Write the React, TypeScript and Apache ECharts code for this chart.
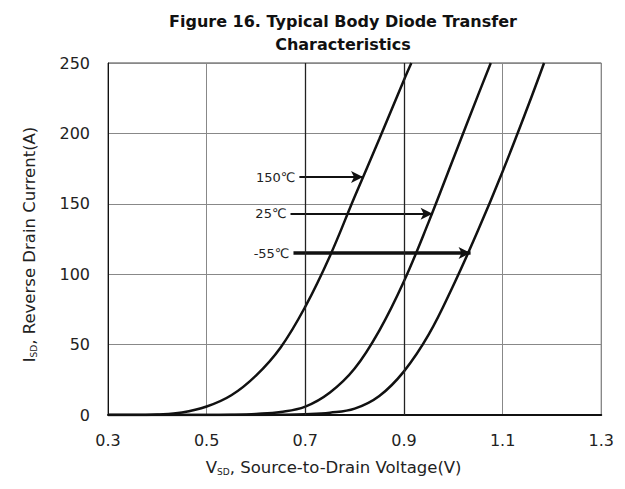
import React, { useEffect, useRef } from "react";
import * as echarts from "echarts";

// Reverse drain current curves (V_SD in V, I_SD in A)
const v150 = [0.30, 0.35, 0.40, 0.45, 0.50, 0.55, 0.60, 0.65, 0.70, 0.75, 0.80, 0.85, 0.90, 0.915];
const i150 = [0, 0, 0.4, 1.8, 6, 14, 28, 48, 77, 113, 155, 196, 238, 250];

const v25 = [0.30, 0.50, 0.55, 0.60, 0.65, 0.70, 0.75, 0.80, 0.85, 0.90, 0.95, 1.00, 1.05, 1.076];
const i25 = [0, 0, 0.2, 0.8, 2.2, 6, 16, 33, 60, 95, 137, 182, 227, 250];

const vm55 = [0.30, 0.60, 0.65, 0.70, 0.75, 0.80, 0.85, 0.90, 0.95, 1.00, 1.05, 1.10, 1.15, 1.184];
const im55 = [0, 0, 0.1, 0.5, 1.6, 4.5, 13.5, 31, 57, 92, 131, 173, 218, 250];

const seriesNames = ["150℃", "25℃", "-55℃"];
// Arrow annotations: start voltage, end voltage, current level
const arrowStartV = [0.688, 0.67, 0.676];
const arrowEndV = [0.817, 0.958, 1.035];
const arrowI = [169, 143, 115];
const arrowWidths = [2, 2, 3.5];

const xTicks = { min: 0.3, max: 1.3, interval: 0.2 };
const yTicks = { min: 0, max: 250, interval: 50 };
const darkGridV = [0.7, 0.9];

function zip(xs: number[], ys: number[]) {
  return xs.map((x, i) => [x, ys[i]]);
}

export default function App() {
  const ref = useRef<HTMLDivElement>(null);
  useEffect(() => {
    if (!ref.current) return;
    const chart = echarts.init(ref.current, undefined, { renderer: "svg" });
    const curves = [zip(v150, i150), zip(v25, i25), zip(vm55, im55)];
    const font = "'DejaVu Sans', Arial, sans-serif";
    const series: any[] = curves.map((d, k) => ({
      name: seriesNames[k],
      type: "line",
      data: d,
      smooth: 0.4,
      showSymbol: false,
      symbol: "none",
      clip: true,
      lineStyle: { color: "#111", width: 2.5 },
      markLine: {
        silent: true,
        symbol: ["none", "arrow"],
        symbolSize: [9, 12],
        lineStyle: { color: "#111", width: arrowWidths[k], type: "solid" },
        label: {
          show: true,
          position: "start",
          formatter: seriesNames[k],
          color: "#222",
          fontSize: 13,
          fontFamily: font,
          distance: 4,
        },
        data: [
          [
            { coord: [arrowStartV[k], arrowI[k]] },
            { coord: [arrowEndV[k], arrowI[k]] },
          ],
        ],
      },
    }));
    series.push({
      type: "line",
      data: [],
      markLine: {
        silent: true,
        symbol: ["none", "none"],
        label: { show: false },
        lineStyle: { color: "#222", width: 1.3, type: "solid" },
        data: darkGridV.map((v) => ({ xAxis: v })),
      },
    });

    chart.setOption({
      animation: false,
      title: {
        text: "Figure 16. Typical Body Diode Transfer\nCharacteristics",
        left: 330,
        top: -3,
        textAlign: "center",
        textStyle: {
          fontFamily: font,
          fontSize: 16,
          fontWeight: "bold",
          color: "#111",
          lineHeight: 23,
        },
      },
      grid: {
        left: 100,
        right: 13,
        top: 55,
        bottom: 55,
        show: true,
        borderColor: "#444",
        borderWidth: 1,
      },
      xAxis: {
        type: "value",
        min: xTicks.min,
        max: xTicks.max,
        interval: xTicks.interval,
        axisLine: { show: true, onZero: false, lineStyle: { color: "#111", width: 2 } },
        axisTick: { show: false },
        splitLine: { show: true, lineStyle: { color: "#888", width: 1 } },
        axisLabel: {
          color: "#222",
          fontSize: 16,
          fontFamily: font,
          margin: 17,
          formatter: (v: number) => v.toFixed(1),
        },
        name: "{a|V}{s|SD}{a|, Source-to-Drain Voltage(V)}",
        nameLocation: "middle",
        nameGap: 44,
        nameTextStyle: {
          padding: [0, 42, 0, 0],
          rich: {
            a: { fontSize: 16.5, fontFamily: font, color: "#222" },
            s: { fontSize: 9, fontFamily: font, color: "#222", padding: [8, 0, 0, 0] },
          },
        },
      },
      yAxis: {
        type: "value",
        min: yTicks.min,
        max: yTicks.max,
        interval: yTicks.interval,
        axisLine: { show: true, lineStyle: { color: "#111", width: 1 } },
        axisTick: { show: false },
        splitLine: { show: true, lineStyle: { color: "#888", width: 1 } },
        axisLabel: { color: "#222", fontSize: 16, fontFamily: font, margin: 18 },
        name: "{a|I}{s|SD}{a|, Reverse Drain Current(A)}",
        nameLocation: "middle",
        nameGap: 70,
        nameTextStyle: {
          padding: [0, 11, 0, 0],
          rich: {
            a: { fontSize: 16.5, fontFamily: font, color: "#222" },
            s: { fontSize: 9, fontFamily: font, color: "#222", padding: [8, 0, 0, 0] },
          },
        },
      },
      series,
    });
    return () => chart.dispose();
  }, []);
  return <div ref={ref} style={{ width: 609, height: 473 }} />;
}
